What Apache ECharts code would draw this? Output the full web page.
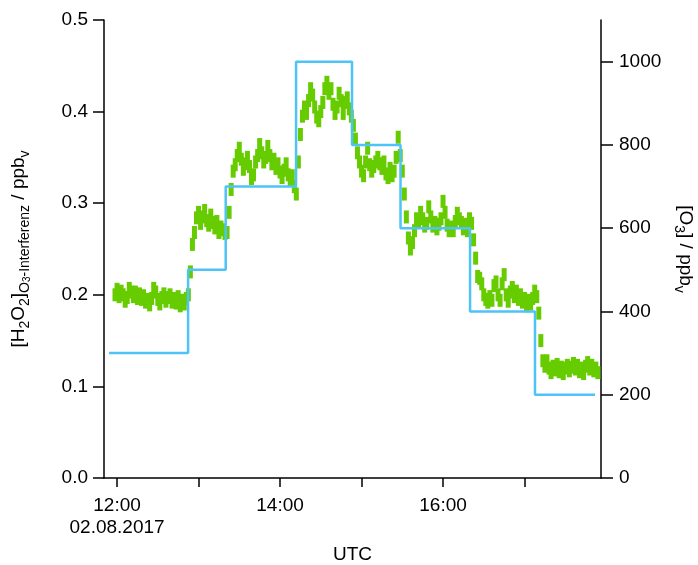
<!DOCTYPE html>
<html>
<head>
<meta charset="utf-8">
<script src="https://cdn.jsdelivr.net/npm/echarts@6/dist/echarts.min.js"></script>
<style>html,body{margin:0;padding:0;background:#fff}#c{width:698px;height:565px}</style>
</head>
<body>
<div id="c"></div>
<script>
// Time in minutes after 12:00 UTC (02.08.2017)
const xTickMinutes = [0, 60, 120, 180, 240, 300];
const xLabelMinutes = [0, 120, 240];
const xLabelTexts = {0: '12:00\n02.08.2017', 120: '14:00', 240: '16:00'};
const leftTicks = [0, 0.1, 0.2, 0.3, 0.4, 0.5];
const rightTicks = [0, 200, 400, 600, 800, 1000];

// O3 step profile (right axis, ppbv): step start times (min) and levels
const o3Times = [-5.9, 52.3, 80, 131.8, 173, 208.7, 259.9, 307.7, 351.9];
const o3Values = [300, 500, 700, 1000, 800, 600, 400, 200, 200];

// H2O2 O3-interference (left axis, ppbv), sampled every 1.5 min from -1.5 min
const h2o2StartMin = -1.5;
const h2o2StepMin = 1.5;
const h2o2Values = [
  0.200,0.206,0.198,0.204,0.200,0.193,0.197,0.207,0.203,0.198,
  0.203,0.196,0.201,0.195,0.199,0.192,0.195,0.189,0.196,0.207,
  0.203,0.195,0.190,0.197,0.201,0.193,0.197,0.200,0.192,0.196,
  0.191,0.198,0.188,0.194,0.190,0.196,0.200,0.225,0.255,0.268,
  0.284,0.290,0.278,0.285,0.292,0.281,0.276,0.287,0.279,0.273,
  0.280,0.268,0.274,0.271,0.267,0.268,0.290,0.315,0.335,0.342,
  0.352,0.360,0.348,0.337,0.343,0.350,0.340,0.327,0.331,0.345,
  0.352,0.364,0.355,0.345,0.350,0.362,0.352,0.343,0.348,0.338,
  0.343,0.334,0.328,0.336,0.343,0.331,0.325,0.330,0.318,0.310,
  0.345,0.375,0.395,0.405,0.398,0.412,0.425,0.418,0.405,0.394,
  0.390,0.400,0.410,0.425,0.432,0.420,0.425,0.408,0.398,0.405,
  0.420,0.412,0.398,0.410,0.415,0.403,0.395,0.385,0.370,0.355,
  0.345,0.335,0.330,0.345,0.360,0.342,0.335,0.340,0.345,0.350,
  0.343,0.338,0.345,0.332,0.328,0.338,0.330,0.335,0.350,0.372,
  0.352,0.335,0.310,0.285,0.262,0.250,0.257,0.270,0.283,0.280,
  0.290,0.283,0.275,0.278,0.296,0.285,0.275,0.279,0.272,0.277,
  0.283,0.302,0.290,0.276,0.270,0.274,0.270,0.280,0.289,0.283,
  0.279,0.272,0.277,0.270,0.283,0.278,0.260,0.240,0.220,0.218,
  0.212,0.200,0.195,0.192,0.198,0.194,0.210,0.214,0.200,0.194,
  0.212,0.222,0.200,0.193,0.203,0.208,0.198,0.204,0.195,0.200,
  0.192,0.196,0.188,0.194,0.190,0.196,0.204,0.198,0.180,0.150,
  0.128,0.122,0.128,0.120,0.115,0.122,0.118,0.124,0.116,0.121,
  0.114,0.120,0.123,0.117,0.121,0.125,0.119,0.123,0.116,0.120,
  0.114,0.122,0.126,0.119,0.123,0.117,0.120,0.115
];

const h2o2Data = h2o2Values.map((v, i) => [h2o2StartMin + i * h2o2StepMin, v]);
const o3Data = o3Times.map((t, i) => [t, o3Values[i]]);

const FONT = '"Liberation Sans", Arial, sans-serif';
const FS = 19;
const chart = echarts.init(document.getElementById('c'), null, {renderer: 'canvas'});
const axisLineStyle = {color: '#000', width: 1.5};

chart.setOption({
  animation: false,
  backgroundColor: '#fff',
  grid: {left: 104, right: 97, top: 20, bottom: 87, containLabel: false, outerBoundsMode: 'none'},
  xAxis: {
    type: 'value',
    min: -9.6,
    max: 356.3,
    name: 'UTC',
    nameLocation: 'middle',
    nameGap: 67,
    nameTextStyle: {fontFamily: FONT, fontSize: FS, color: '#000'},
    axisLine: {show: true, onZero: false, lineStyle: axisLineStyle},
    axisTick: {show: true, length: 9, lineStyle: {color: '#000', width: 1.5}, customValues: xTickMinutes},
    axisLabel: {
      customValues: xLabelMinutes,
      formatter: v => xLabelTexts[Math.round(v)] || '',
      fontFamily: FONT, fontSize: FS, color: '#000', margin: 17, lineHeight: 22
    },
    splitLine: {show: false}
  },
  yAxis: [
    {
      type: 'value', min: 0, max: 0.5, interval: 0.1, position: 'left',
      name: '{n|[H}{s|2}{n|O}{s|2}{n|]}{s|O}{ss|3}{s|-Interferenz}{n| / ppb}{s|v}',
      nameLocation: 'middle', nameRotate: 90, nameGap: 72,
      nameTextStyle: {
        fontFamily: FONT, color: '#000',
        rich: {
          n: {fontFamily: FONT, fontSize: FS, lineHeight: 26, color: '#000'},
          s: {fontFamily: FONT, fontSize: 14, lineHeight: 14, verticalAlign: 'bottom', color: '#000'},
          ss: {fontFamily: FONT, fontSize: 10, lineHeight: 8, verticalAlign: 'bottom', color: '#000'}
        }
      },
      axisLine: {show: true, onZero: false, lineStyle: axisLineStyle},
      axisTick: {show: true, length: 11, lineStyle: {color: '#000', width: 1.5}},
      axisLabel: {formatter: v => v.toFixed(1), fontFamily: FONT, fontSize: FS, color: '#000', margin: 16},
      splitLine: {show: false}
    },
    {
      type: 'value', min: 0, max: 1100, position: 'right',
      name: '{n|[O}{s|3}{n|] / ppb}{s|v}',
      nameLocation: 'middle', nameRotate: -90, nameGap: 70,
      nameTextStyle: {
        fontFamily: FONT, color: '#000',
        rich: {
          n: {fontFamily: FONT, fontSize: FS, lineHeight: 26, color: '#000'},
          s: {fontFamily: FONT, fontSize: 14, lineHeight: 14, verticalAlign: 'bottom', color: '#000'}
        }
      },
      axisLine: {show: true, onZero: false, lineStyle: axisLineStyle},
      axisTick: {show: true, length: 12, lineStyle: {color: '#000', width: 1.5}, customValues: rightTicks},
      axisLabel: {customValues: rightTicks, formatter: v => String(Math.round(v)), fontFamily: FONT, fontSize: FS, color: '#000', margin: 18},
      splitLine: {show: false}
    }
  ],
  series: [
    {
      type: 'scatter', yAxisIndex: 0, data: h2o2Data,
      symbol: 'rect', symbolSize: [5, 13],
      itemStyle: {color: '#66CC00', opacity: 1}, z: 2
    },
    {
      type: 'line', yAxisIndex: 1, data: o3Data, step: 'end',
      showSymbol: false, symbol: 'none',
      lineStyle: {color: '#4DC3F7', width: 2.5}, z: 3
    }
  ]
});
</script>
</body>
</html>
